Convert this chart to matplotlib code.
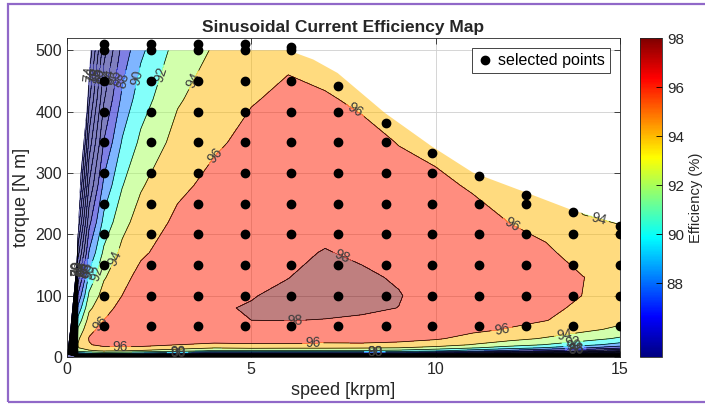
import numpy as np
import matplotlib
matplotlib.use('Agg')
import matplotlib.pyplot as plt
from matplotlib.colors import LinearSegmentedColormap, Normalize
from matplotlib.cm import ScalarMappable
from matplotlib.patches import Polygon, Rectangle

plt.rcParams['font.family'] = ['Liberation Sans', 'DejaVu Sans']

# ---- data ----
speed_grid = [0, 0.3, 0.6, 1, 1.5, 2, 3, 4, 5, 6, 7, 8, 9, 10, 11, 12, 13, 14, 15]
torque_grid = [0, 5, 10, 15, 20, 30, 45, 60, 80, 100, 130, 170, 220, 280, 350, 420, 500]

# efficiency (%) along torque_grid, one list per speed in speed_grid
eff_0k0 = [0] * 17
eff_0k3 = [0, 88.1, 92.7, 93.9, 94.1, 93.7, 92.3, 90.7, 88.5, 86.3, 83.1, 79.2, 74.7, 69.9, 65.1, 60.9, 56.7]
eff_0k6 = [0, 88.9, 93.6, 95.2, 95.9, 96.1, 95.6, 94.8, 93.6, 92.4, 90.6, 88.2, 85.4, 82.2, 78.8, 75.6, 72.3]
eff_1k0 = [0, 89.5, 94.2, 95.7, 96.4, 96.8, 96.5, 96.0, 95.4, 94.8, 93.8, 92.4, 90.6, 88.5, 86.1, 83.8, 81.3]
eff_1k5 = [0, 89.1, 94.0, 95.7, 96.5, 97.2, 97.3, 97.0, 96.5, 96.02, 95.4, 94.5, 93.4, 91.9, 90.2, 88.5, 86.7]
eff_2k0 = [0, 88.5, 93.7, 95.6, 96.5, 97.2, 97.6, 97.6, 97.4, 97.1, 96.6, 95.7, 94.8, 93.8, 92.4, 91.1, 89.6]
eff_3k0 = [0, 86.7, 92.8, 94.9, 96.0, 97.1, 97.7, 97.9, 97.9, 97.8, 97.5, 97.0, 96.4, 95.6, 94.7, 93.8, 92.8]
eff_4k0 = [0, 84.6, 91.6, 94.1, 95.7, 96.8, 97.5, 97.8, 97.9, 97.85, 97.7, 97.45, 97.05, 96.5, 95.75, 95.0, 94.2]
eff_5k0 = [0, 85.0, 91.8, 94.4, 95.8, 96.9, 97.6, 98.0, 98.07, 97.95, 97.8, 97.6, 97.3, 96.9, 96.45, 95.9, 95.2]
eff_6k0 = [0, 84.9, 91.7, 94.3, 95.8, 96.9, 97.65, 98.02, 98.2, 98.22, 97.98, 97.8, 97.5, 97.1, 96.7, 96.3, 95.7]
eff_7k0 = [0, 84.9, 91.8, 94.3, 95.6, 96.9, 97.6, 97.97, 98.25, 98.4, 98.35, 98.05, 97.7, 97.3, 96.8, 96.15, 95.3]
eff_8k0 = [0, 84.5, 91.6, 94.2, 95.7, 96.8, 97.5, 97.88, 98.15, 98.3, 98.15, 97.85, 97.45, 97.0, 96.45, 95.75, 94.9]
eff_9k0 = [0, 84.0, 91.3, 94.0, 95.5, 96.6, 97.35, 97.75, 97.99, 98.05, 97.9, 97.55, 97.1, 96.55, 95.95, 95.2, 94.3]
eff_10k = [0, 82.5, 90.3, 93.3, 95.0, 96.2, 97.0, 97.35, 97.55, 97.6, 97.5, 97.2, 96.75, 96.3, 95.6, 94.8, 93.8]
eff_11k = [0, 80.5, 88.8, 92.2, 93.9, 95.4, 96.4, 96.9, 97.15, 97.25, 97.2, 96.95, 96.5, 95.85, 95.0, 94.0, 92.8]
eff_12k = [0, 78.5, 87.3, 91.0, 92.9, 94.6, 95.9, 96.4, 96.75, 96.9, 96.85, 96.55, 95.98, 95.2, 94.2, 93.0, 91.6]
eff_13k = [0, 76.5, 85.8, 89.8, 91.9, 93.8, 95.2, 96.05, 96.35, 96.5, 96.45, 96.2, 95.6, 94.7, 93.6, 92.4, 91.0]
eff_14k = [0, 74.0, 84.0, 88.3, 90.7, 92.9, 94.45, 95.2, 95.7, 95.98, 96.02, 95.5, 94.3, 92.8, 91.2, 89.6, 88.0]
eff_15k = [0, 71.0, 81.5, 86.5, 89.2, 91.7, 93.6, 94.5, 95.1, 95.4, 95.5, 95.1, 93.9, 92.3, 90.6, 89.0, 87.4]

eff_table = [eff_0k0, eff_0k3, eff_0k6, eff_1k0, eff_1k5, eff_2k0, eff_3k0, eff_4k0, eff_5k0, eff_6k0,
             eff_7k0, eff_8k0, eff_9k0, eff_10k, eff_11k, eff_12k, eff_13k, eff_14k, eff_15k]

# operating envelope of the map (speed krpm, torque N m)
env_speed = [0, 0.1, 0.26, 0.37, 0.53, 0.64, 6.0, 6.68, 7.34, 8.62, 9.88, 11.0, 12.46, 13.72, 15, 15]
env_torque = [0, 50, 150, 300, 400, 500, 500, 485, 463, 398, 344, 301, 268, 239, 217, 0]

# selected points: one column per speed, torque steps up to the max torque of that speed
sel_speed = [1.0, 2.27, 3.55, 4.82, 6.09, 7.36, 8.64, 9.91, 11.18, 12.45, 13.73, 15.0]
sel_tmax = [510, 510, 510, 510, 505, 441, 381, 333, 295, 264, 237, 214]
sel_steps = [50, 100, 150, 200, 250, 300, 350, 400, 450, 500]

# where the contour labels sit
label_spots = {
    98: [(7.53, 172), (6.18, 60)],
    96: [(7.75, 396), (3.96, 331), (1.45, 15), (1.0, 50), (6.67, 20), (12.09, 219), (11.8, 45)],
    94: [(1.35, 160), (3.39, 453), (14.4, 221), (13.5, 38)],
    92: [(2.38, 463), (13.7, 30), (0.25, 145)],
    90: [(1.9, 455), (13.75, 22), (0.25, 145), (3.0, 6), (8.35, 6)],
    88: [(1.0, 458), (0.25, 145), (3.0, 6), (8.35, 6), (13.8, 6)],
    86: [(1.0, 458), (0.25, 145), (13.8, 6)],
    84: [(1.0, 458), (0.25, 145)],
    82: [(1.0, 458)],
    80: [(1.0, 458), (0.25, 145)],
    78: [(1.0, 458)],
    76: [(1.0, 458), (0.25, 145)],
    74: [(1.0, 458)],
    70: [(0.25, 145)],
}

# ---- plot ----
Z = np.array(eff_table).T

jet_ml = LinearSegmentedColormap.from_list(
    'jet_ml', [(0, (0, 0, 0.5)), (0.125, (0, 0, 1)), (0.375, (0, 1, 1)),
               (0.625, (1, 1, 0)), (0.875, (1, 0, 0)), (1, (0.5, 0, 0))])
norm = Normalize(85, 98)
levels = np.arange(0, 101, 2)
fill_colors = [jet_ml(norm(min(max(lv, 85), 98))) for lv in levels[:-1]]

fig = plt.figure(figsize=(7.05, 4.04), dpi=100)
ax = fig.add_axes([0.095, 0.1163, 0.7844, 0.7896])
cax = fig.add_axes([0.9078, 0.1163, 0.0312, 0.7896])

ax.set_xlim(0, 15)
ax.set_ylim(0, 520)

clip = Polygon(np.column_stack([env_speed, env_torque]), closed=True,
               transform=ax.transData, facecolor='none', edgecolor='none')

cf = ax.contourf(speed_grid, torque_grid, Z, levels=levels, colors=fill_colors, alpha=0.5)
cf.set_clip_path(clip)

lab_kw = dict(inline=True, fontsize=10, colors='#3c3c3c', fmt='%d', inline_spacing=3)
for lev in levels[:-1]:
    cl = ax.contour(speed_grid, torque_grid, Z, levels=[lev], colors='k', linewidths=0.5)
    cl.set_clip_path(clip)
    if int(lev) in label_spots:
        ax.clabel(cl, manual=label_spots[int(lev)], **lab_kw)

# selected points
px, py = [], []
for s, tmax in zip(sel_speed, sel_tmax):
    for t in sel_steps:
        if t <= tmax:
            px.append(s)
            py.append(t)
    px.append(s)
    py.append(tmax)
ax.plot(px, py, 'o', color='k', markersize=6, linestyle='none', label='selected points', zorder=5)

ax.set_xticks([0, 5, 10, 15])
ax.set_yticks([0, 100, 200, 300, 400, 500])
ax.grid(True, color='#cfcfcf', linewidth=0.6)
ax.set_axisbelow(True)
ax.tick_params(direction='in', top=True, right=True, length=4, width=0.6,
               labelsize=11.5, labelcolor='#262626', color='#262626')
for sp in ax.spines.values():
    sp.set_color('#262626')
    sp.set_linewidth(0.6)

ax.set_xlabel('speed [krpm]', fontsize=13, color='#262626')
ax.set_ylabel('torque [N m]', fontsize=13, color='#262626')
ax.set_title('Sinusoidal Current Efficiency Map', fontsize=12.5, fontweight='bold',
             color='#262626', pad=4)

leg = ax.legend(loc='upper right', fontsize=11.5, frameon=True, fancybox=False,
                edgecolor='#262626', framealpha=1, borderaxespad=0.65,
                handletextpad=0.3, handlelength=1.0, borderpad=0.3)
leg.get_frame().set_linewidth(0.6)

# colorbar
sm = ScalarMappable(norm=norm, cmap=jet_ml)
cb = fig.colorbar(sm, cax=cax)
cb.set_ticks([88, 90, 92, 94, 96, 98])
cax.tick_params(direction='in', length=4, width=0.6, labelsize=11, labelcolor='#262626')
cb.outline.set_linewidth(0.6)
cb.outline.set_edgecolor('#262626')
cb.set_label('Efficiency (%)', fontsize=10.6, color='#262626')

# purple window frame of the screenshot
fig.add_artist(Rectangle((8 / 705, 2 / 404), 1.0, 1 - 5.5 / 404, transform=fig.transFigure,
                         fill=False, edgecolor='#9068c8', linewidth=1.6, clip_on=False))

fig.savefig('out.png', dpi=100)
